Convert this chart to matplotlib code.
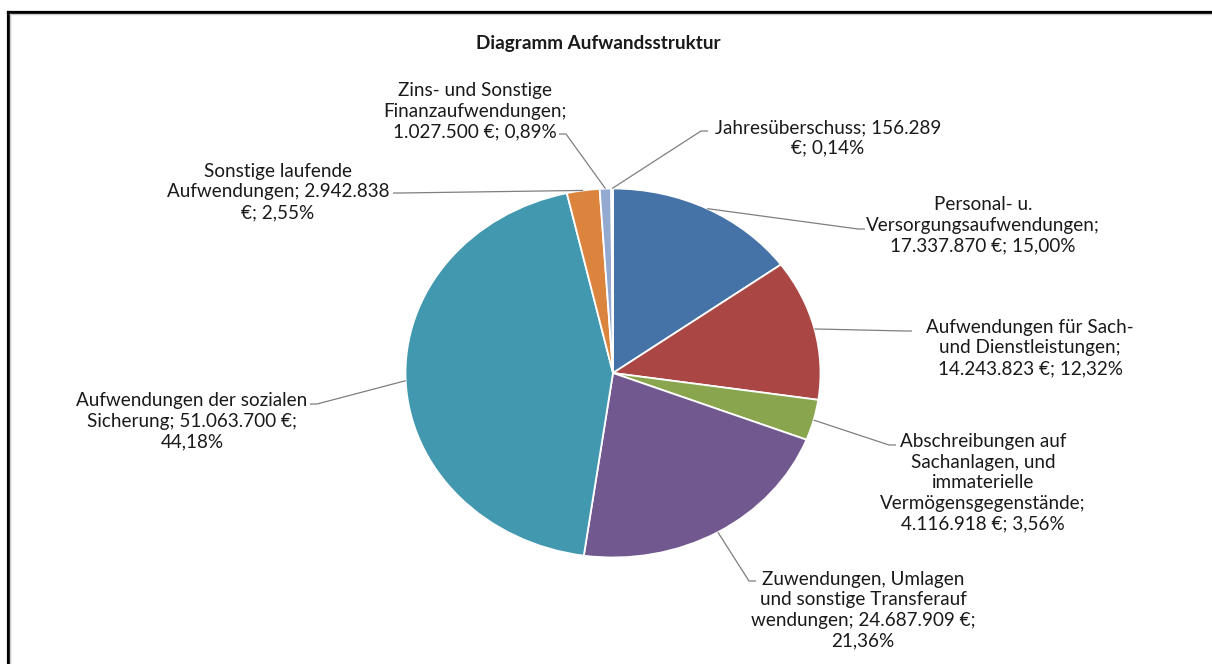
import numpy as np
import matplotlib
matplotlib.use("Agg")
import matplotlib.pyplot as plt
from matplotlib.lines import Line2D

# slice data, clockwise from 12 o'clock
labels = [
    "Personal- u.\nVersorgungsaufwendungen;\n17.337.870 €; 15,00%",
    "Aufwendungen für Sach-\nund Dienstleistungen;\n14.243.823 €; 12,32%",
    "Abschreibungen auf\nSachanlagen, und\nimmaterielle\nVermögensgegenstände;\n4.116.918 €; 3,56%",
    "Zuwendungen, Umlagen\nund sonstige Transferauf\nwendungen; 24.687.909 €;\n21,36%",
    "Aufwendungen der sozialen\nSicherung; 51.063.700 €;\n44,18%",
    "Sonstige laufende\nAufwendungen; 2.942.838\n€; 2,55%",
    "Zins- und Sonstige\nFinanzaufwendungen;\n1.027.500 €; 0,89%",
    "Jahresüberschuss; 156.289\n€; 0,14%",
]
values = [17337870, 14243823, 4116918, 24687909, 51063700, 2942838, 1027500, 156289]
colors = ["#4572A7", "#AA4643", "#89A54E", "#71588F", "#4198AF", "#DB843D", "#93A9CF", "#D19392"]
title = "Diagramm Aufwandsstruktur"

W, H = 1212, 664
CX, CY = 613, 373      # pie centre (pixels from top-left)
RX, RY = 207.5, 184.5  # the pie is drawn as an ellipse

# label centre (px) and where the leader line ends at the label (px)
label_pos = [(983, 225), (1030, 348), (983, 483), (863, 610), (192, 421), (278, 192), (475, 111), (828, 138)]
anchor_pos = [(865, 229), (912, 331), (896, 445), (756, 581), (310, 404), (393, 193), (559, 134), (708, 131)]

plt.rcParams['font.family'] = ['Lato', 'DejaVu Sans']


def px(x, y):
    # pixel position -> data coords of the pie axes
    return (x - CX) / RX, (CY - y) / RY


def main():
    fig = plt.figure(figsize=(W / 100, H / 100), dpi=100)
    ax = fig.add_axes([0, 0, 1, 1])
    wedges, _ = ax.pie(values, colors=colors, startangle=90, counterclock=False,
                       radius=1, wedgeprops=dict(edgecolor="white", linewidth=1.3))
    ax.set_aspect("auto")
    ax.set_xlim(-CX / RX, (W - CX) / RX)
    ax.set_ylim(-(H - CY) / RY, CY / RY)
    ax.axis("off")

    # leader lines + labels
    for w, lab, (lx, ly), (axp, ayp) in zip(wedges, labels, label_pos, anchor_pos):
        mid = np.deg2rad((w.theta1 + w.theta2) / 2)
        ex, ey = np.cos(mid), np.sin(mid)
        ax_, ay_ = px(axp, ayp)
        side = 1 if axp > CX else -1
        kx, ky = px(axp - side * 7, ayp)
        ax.plot([ex, kx, ax_], [ey, ky, ay_], color="#7f7f7f", lw=0.9,
                solid_capstyle="butt", zorder=1)
        tx, ty = px(lx, ly)
        ax.text(tx, ty, lab, ha="center", va="center", fontsize=13.6,
                linespacing=1.25, color="#1a1a1a")

    fig.text(598 / W, 1 - 43 / H, title, ha="center", va="center",
             fontsize=13.6, fontweight="bold", color="#1a1a1a")

    # screenshot frame (top and left edges)
    fig.add_artist(Line2D([7.5 / W, 1], [1 - 11.5 / H] * 2, color="black", lw=2.3,
                          transform=fig.transFigure))
    fig.add_artist(Line2D([7.5 / W] * 2, [0, 1 - 11.5 / H], color="black", lw=2.3,
                          transform=fig.transFigure))
    fig.add_artist(Line2D([9.5 / W, 1], [1 - 14 / H] * 2, color="#c8c8c8", lw=1,
                          transform=fig.transFigure))
    fig.add_artist(Line2D([10 / W] * 2, [0, 1 - 14 / H], color="#c8c8c8", lw=1,
                          transform=fig.transFigure))

    fig.savefig("out.png", dpi=100)


if __name__ == '__main__':
    main()
